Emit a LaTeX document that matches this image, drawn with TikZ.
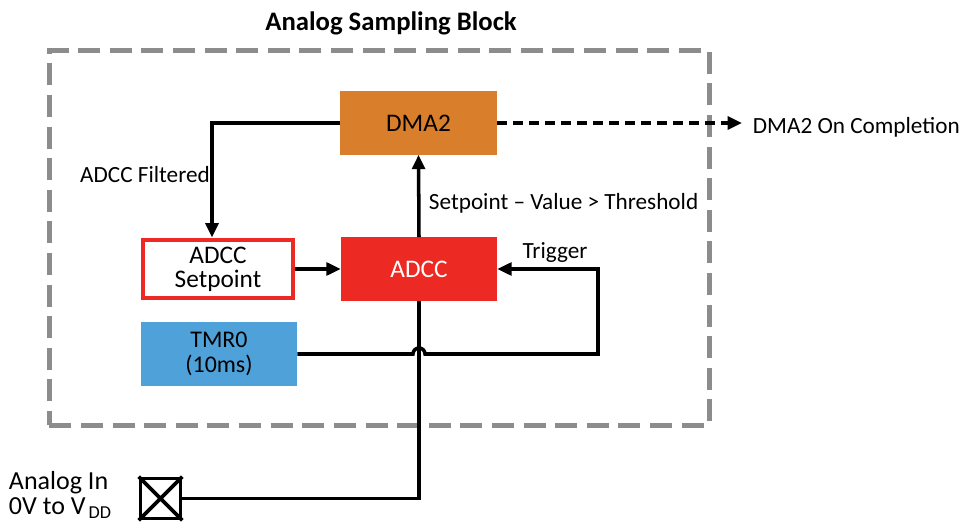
\documentclass[tikz,border=0pt]{standalone}
\usepackage{fontspec}
\setmainfont{Carlito}
\usepackage{tikz}
\usetikzlibrary{arrows.meta, positioning}
\usepackage{xcolor}

\definecolor{dmaorange}{RGB}{217,126,42}
\definecolor{adccred}{RGB}{237,41,36}
\definecolor{tmrblue}{RGB}{79,161,217}
\definecolor{boxgray}{RGB}{140,140,140}

\begin{document}
\begin{tikzpicture}[
      x=0.025cm, y=-0.025cm,
      block/.style={align=center, inner sep=0pt, minimum width=3.9cm, minimum height=1.575cm, font=\fontsize{18}{20}\selectfont},
      lbl/.style={font=\fontsize{16.5}{19}\selectfont},
      wire/.style={line width=2.5pt},
      tip/.style={-{Triangle[length=3.6mm,width=3.2mm]}}
    ]
    \useasboundingbox (0,0) rectangle (962,525);

    % Analog Sampling Block
    \node[font=\bfseries\fontsize{19}{22}\selectfont] (title) at (391,23) {Analog Sampling Block};
    \node[draw=boxgray, line width=3.5pt, dash pattern=on 0.55cm off 0.24cm, minimum width=16.5cm, minimum height=9.35cm] (asb) at (379.5,238) {};

    % Nodes
    \node[block, fill=dmaorange] (dma2) at (418.5,123) {DMA2};
    \node[block, fill=adccred, text=white] (adcc) at (419,269) {ADCC};
    \node[block, draw=adccred, fill=white, line width=3.5pt, minimum width=3.75cm, minimum height=1.45cm] (setpt) at (218,269) {ADCC\\[-3pt]Setpoint};
    \node[block, fill=tmrblue, font=\fontsize{17}{18}\selectfont] (tmr0) at (219,354) {TMR0\\(10ms)};

    % Analog input
    \node[draw, line width=2.6pt, minimum size=1.0cm, inner sep=0pt] (pin) at (160.5,498.5) {};
    \draw[line width=2.6pt] (pin.north west) -- (pin.south east) (pin.north east) -- (pin.south west);
    \node[lbl, align=left, anchor=west, font=\fontsize{18.5}{18}\selectfont] (ain) at (4,495) {Analog In\\0V to V\textsubscript{\,DD}};

    % Arrows
    \coordinate (done) at (742,123);
    \coordinate (trig) at (598,269);

    \draw[wire, tip] (dma2.west) -| ([xshift=-0.15cm]setpt.north);
    \node[lbl] (filt) at (145,175) {ADCC Filtered};

    \draw[wire, tip] (adcc.north) -- (dma2.south);
    \node[lbl, anchor=west] (thr) at (424,203) {Setpoint -- Value > Threshold};

    \draw[wire, tip, dash pattern=on 0.25cm off 0.15cm] (dma2.east) -- (done);
    \node[lbl, anchor=west] (cmpl) at (748,127) {DMA2 On Completion};

    \draw[wire, tip] (setpt.east) -- (adcc.west);

    \draw[wire, tip] (tmr0.east) -- ([xshift=-0.15cm]adcc.south |- tmr0.east) arc[start angle=180, end angle=360, radius=6] -- (tmr0.east -| trig) -- (trig) -- (adcc.east);
    \node[lbl] (trg) at (555,253) {Trigger};

    \draw[wire] (adcc.south) |- (pin.east);

  \end{tikzpicture}
\end{document}
